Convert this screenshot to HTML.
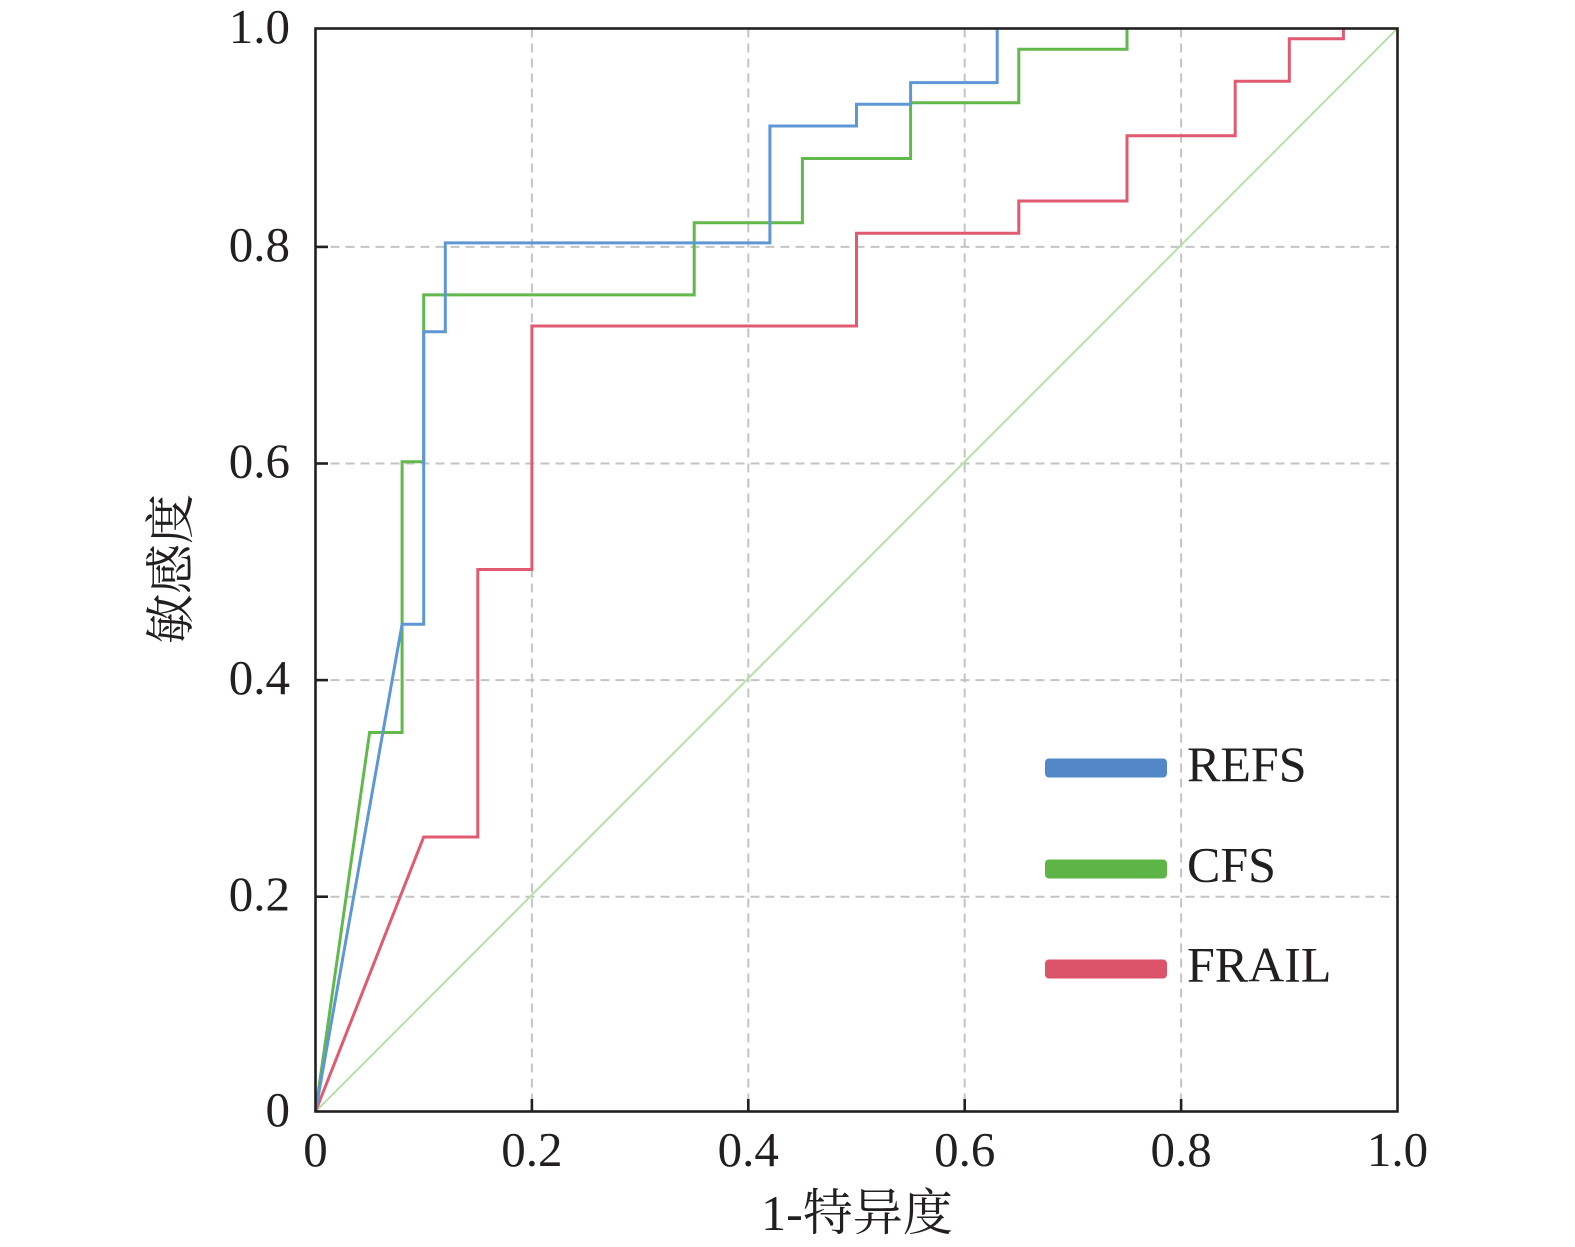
<!DOCTYPE html>
<html>
<head>
<meta charset="utf-8">
<style>
html,body{margin:0;padding:0;background:#fff;}
svg{display:block;}
</style>
</head>
<body>
<svg width="1575" height="1247" viewBox="0 0 1575 1247" xmlns="http://www.w3.org/2000/svg">
<rect x="0" y="0" width="1575" height="1247" fill="#fff"/>
<!-- grid -->
<g stroke="#c4c4c4" stroke-width="2" stroke-dasharray="9,6" fill="none">
<line x1="531.9" y1="28.5" x2="531.9" y2="1111.5"/>
<line x1="748.3" y1="28.5" x2="748.3" y2="1111.5"/>
<line x1="964.7" y1="28.5" x2="964.7" y2="1111.5"/>
<line x1="1181.1" y1="28.5" x2="1181.1" y2="1111.5"/>
<line x1="315.5" y1="246.9" x2="1397.5" y2="246.9"/>
<line x1="315.5" y1="463.5" x2="1397.5" y2="463.5"/>
<line x1="315.5" y1="680.1" x2="1397.5" y2="680.1"/>
<line x1="315.5" y1="896.7" x2="1397.5" y2="896.7"/>
</g>
<!-- diagonal -->
<line x1="315.5" y1="1111.5" x2="1397.5" y2="28.5" stroke="#b9dfa9" stroke-width="2"/>
<!-- curves -->
<g fill="none" stroke-width="3" stroke-linejoin="miter">
<path stroke="#e05a70" d="M315.5,1111.5 L423.7,837 L477.8,837 L477.8,569.5 L531.9,569.5 L531.9,326 L856.5,326 L856.5,233.3 L1018.8,233.3 L1018.8,201 L1127,201 L1127,135.7 L1235.2,135.7 L1235.2,81.3 L1289.3,81.3 L1289.3,38.7 L1343.4,38.7 L1343.4,28.5"/>
<path stroke="#62b84a" d="M315.5,1111.5 L369.6,732.5 L402.1,732.5 L402.1,461.7 L423.7,461.7 L423.7,294.9 L694.2,294.9 L694.2,222.7 L802.4,222.7 L802.4,158.5 L910.6,158.5 L910.6,102.7 L1018.8,102.7 L1018.8,49.3 L1127,49.3 L1127,28.5"/>
<path stroke="#5d97d4" d="M315.5,1111.5 L402.1,624.2 L423.7,624.2 L423.7,331.7 L445.3,331.7 L445.3,242.9 L769.9,242.9 L769.9,126 L856.5,126 L856.5,104.3 L910.6,104.3 L910.6,82.6 L997.2,82.6 L997.2,28.5"/>
</g>
<!-- axes -->
<rect x="315.5" y="28.5" width="1082" height="1083" fill="none" stroke="#231f20" stroke-width="2.6"/>
<g stroke="#231f20" stroke-width="2.6">
<line x1="315.5" y1="246.9" x2="328" y2="246.9"/>
<line x1="315.5" y1="463.5" x2="328" y2="463.5"/>
<line x1="315.5" y1="680.1" x2="328" y2="680.1"/>
<line x1="315.5" y1="896.7" x2="328" y2="896.7"/>
<line x1="531.9" y1="1111.5" x2="531.9" y2="1099"/>
<line x1="748.3" y1="1111.5" x2="748.3" y2="1099"/>
<line x1="964.7" y1="1111.5" x2="964.7" y2="1099"/>
<line x1="1181.1" y1="1111.5" x2="1181.1" y2="1099"/>
</g>
<!-- tick labels -->
<g font-family="'Liberation Serif', serif" font-size="49" fill="#231f20">
<g text-anchor="end">
<text x="290" y="43">1.0</text>
<text x="290" y="261">0.8</text>
<text x="290" y="477.5">0.6</text>
<text x="290" y="694">0.4</text>
<text x="290" y="910.5">0.2</text>
<text x="290" y="1126">0</text>
</g>
<g text-anchor="middle">
<text x="315.5" y="1166">0</text>
<text x="531.9" y="1166">0.2</text>
<text x="748.3" y="1166">0.4</text>
<text x="964.7" y="1166">0.6</text>
<text x="1181.1" y="1166">0.8</text>
<text x="1397.5" y="1166">1.0</text>
</g>
</g>
<!-- axis labels -->
<text x="857" y="1230" text-anchor="middle" font-family="'Liberation Serif', 'Noto Serif CJK SC', serif" font-size="50" fill="#231f20">1-特异度</text>
<text transform="translate(188,569) rotate(-90)" x="0" y="0" text-anchor="middle" font-family="'Liberation Serif', 'Noto Serif CJK SC', serif" font-size="50" fill="#231f20">敏感度</text>
<!-- legend -->
<rect x="1045" y="758.5" width="122" height="19" rx="4" fill="#5288c7"/>
<rect x="1045" y="859.5" width="122" height="19" rx="4" fill="#5db545"/>
<rect x="1045" y="959.5" width="122" height="19" rx="4" fill="#dc5469"/>
<g font-family="'Liberation Serif', serif" font-size="50" fill="#231f20">
<text x="1187" y="781">REFS</text>
<text x="1187" y="881.5">CFS</text>
<text x="1187" y="981.5">FRAIL</text>
</g>
</svg>
</body>
</html>
